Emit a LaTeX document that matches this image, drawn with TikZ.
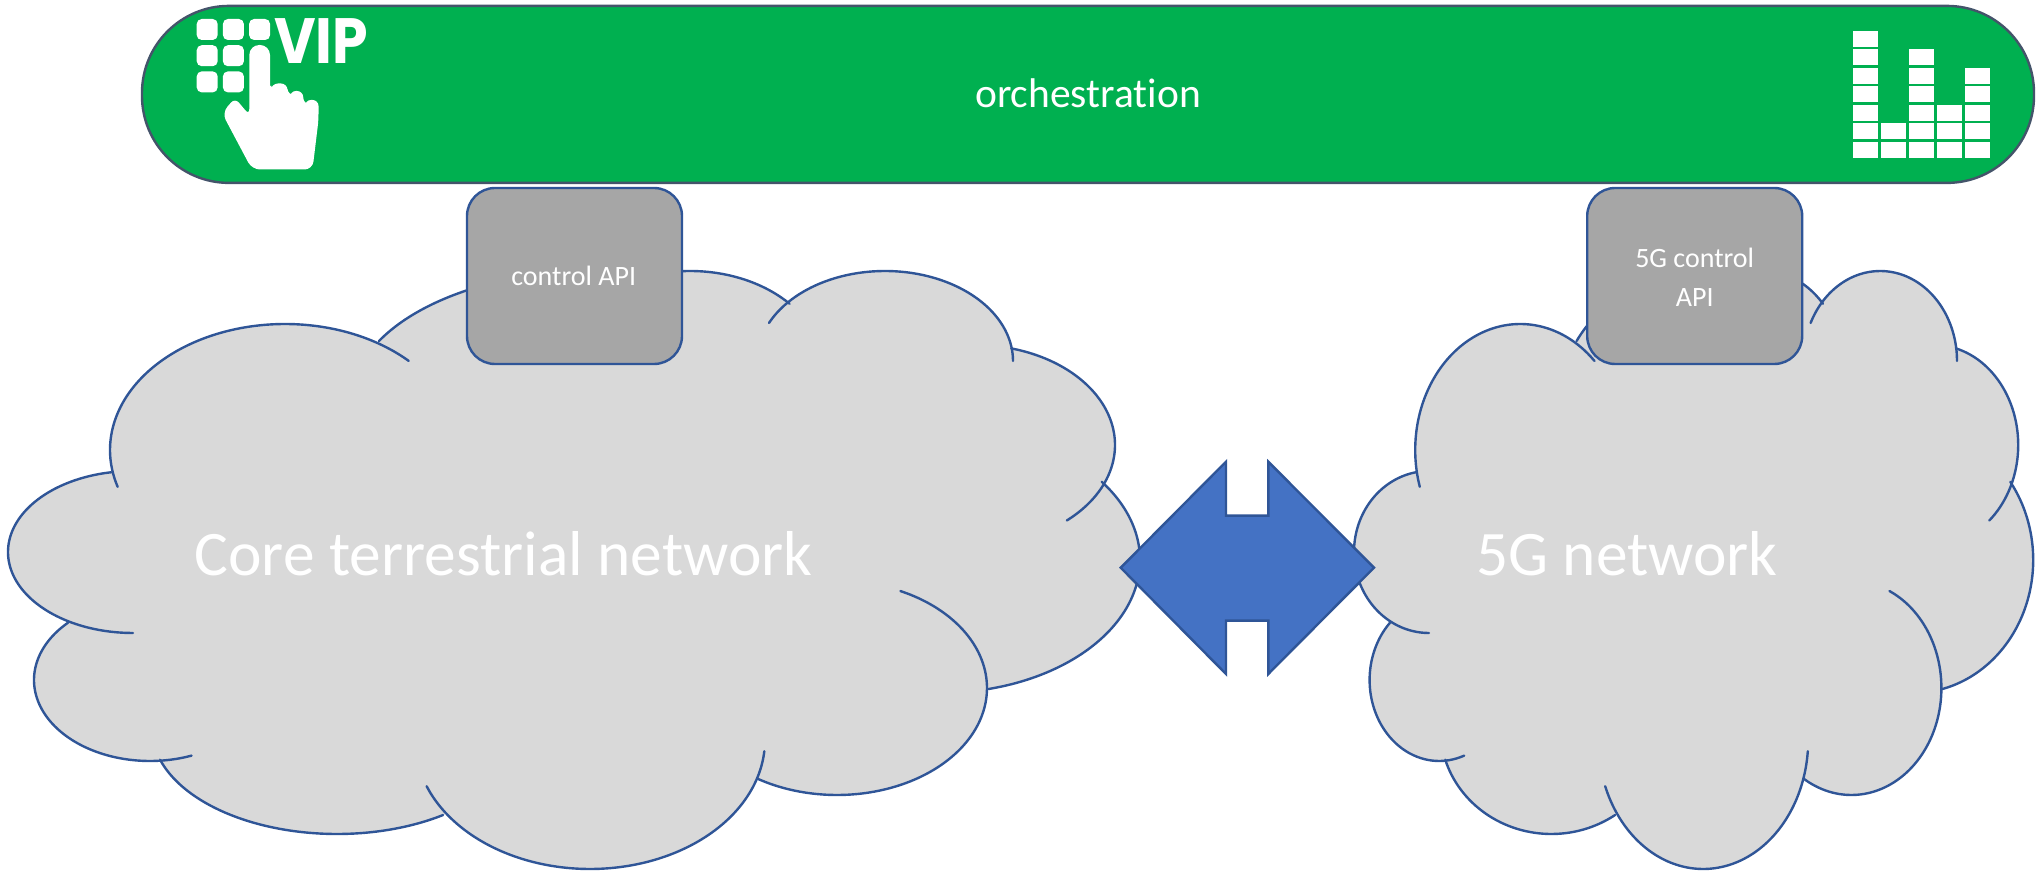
\documentclass[tikz,border=0pt]{standalone}
\usepackage{fontspec}
\setmainfont[Ligatures=NoCommon]{Carlito}
\newfontfamily\vipfont{Poppins}
\definecolor{edgeblue}{HTML}{2F5597}
\definecolor{cloudgrey}{HTML}{D9D9D9}
\definecolor{boxgrey}{HTML}{A6A6A6}
\definecolor{bannergreen}{HTML}{00B050}
\definecolor{bannerline}{HTML}{44546A}
\definecolor{arrowblue}{HTML}{4472C4}
\tikzset{
  lobeline/.style={draw=edgeblue,line width=1.2pt,line cap=round},
  apibox/.style={draw=edgeblue,line width=1.2pt,fill=boxgrey,rounded corners=14pt,minimum width=107.5pt,minimum height=88pt,inner sep=0pt},
  banner/.style={draw=bannerline,line width=1.2pt,fill=bannergreen,rounded corners=43.5pt,minimum width=946pt,minimum height=88.5pt,inner sep=0pt},
  apilabel/.style={text=white,inner sep=0pt,anchor=base,font=\fontsize{14}{19.5}\selectfont},
  bannerlabel/.style={text=white,inner sep=0pt,anchor=base,font=\fontsize{20.75}{24}\selectfont},
  cloudlabel/.style={text=white,inner sep=0pt,anchor=base,font=\fontsize{31.7}{36}\selectfont},
  keypad/.style={fill=white,rounded corners=2.5pt},
  barcell/.style={fill=white}
}
\newcommand{\cloudbody}{%
  \fill[cloudgrey] (133,552)--(285,450)--(600,400)--(690,370)--(885,361)--(975,445)--(940,560)--(837,688)--(590,740)--(337,729)--(150,680)--cycle;
  \foreach \cx/\cy/\rx/\ry in {133/552/125/81,285/450/175/126,600/400/248/130,690/370/134/99,885/361/128/90,975/445/140/100,940/560/200/133,837/688/150/107,590/740/175/129,337/729/185/105,150/680/116/81}
    {\fill[cloudgrey] (\cx,\cy) ellipse [x radius=\rx,y radius=\ry];}
  \foreach \cx/\cy/\rx/\ry/\ta/\tb in {133/552/125/81/90/260,285/450/175/126/163/315,600/400/248/130/207/250,690/370/134/99/266/318,885/361/128/90/205/360,975/445/140/100/-75/49,940/560/200/133/-36/76,837/688/150/107/-65/122,590/740/175/129/5/159,337/729/185/105/55/163,150/680/116/81/69/225}
    {\draw[lobeline] plot[domain=\ta:\tb,samples=48,smooth] ({\cx+\rx*cos(\x)},{\cy+\ry*sin(\x)});}
}
\begin{document}
\begin{tikzpicture}[x=0.5pt,y=-0.5pt]
\useasboundingbox (0,0) rectangle (2036,871);
% clouds
\begin{scope}\cloudbody\end{scope}
\begin{scope}[shift={(1349.2,0)},xscale=0.6]\cloudbody\end{scope}
% banner
\node[banner] (orch) at (1088,94.4) {};
\node[bannerlabel] (orchlabel) at (1088,108) {orchestration};
% boxes
\node[apibox] (api) at (574.5,276) {};
\node[apilabel] (apilabel) at (573.7,286) {control API};
\node[apibox] (api5g) at (1694.7,276) {};
\node[apilabel] (apilabelA) at (1694.7,268) {5G control};
\node[apilabel] (apilabelB) at (1694.7,307) {API};
% labels
\node[cloudlabel] (core) at (503.5,575) {Core terrestrial network};
\node[cloudlabel] (fiveg) at (1627,575) {5G network};
% arrow
\draw[draw=edgeblue,line width=1.2pt,fill=arrowblue,line join=miter]
  (1120.7,567.7)--(1226,461.7)--(1226,515.7)--(1268.3,515.7)--(1268.3,461.7)--(1374,567.7)--(1268.3,674)--(1268.3,620.7)--(1226,620.7)--(1226,674)--cycle;
% keypad
\foreach \kx/\ky in {0/0,1/0,2/0,0/1,1/1,0/2,1/2}
  {\fill[keypad] ({196.7+\kx*26.2},{19+\ky*26.2}) rectangle ++(21,21);}
% hand
\fill[white,rounded corners=2.5pt]
  (249.3,115) [rounded corners=5pt] -- (249.3,45) -- (270,45)
  [sharp corners] -- (270,86) -- (271.5,86)
  [rounded corners=3pt] -- (272,83.5) -- (287,83.5) -- (288,95)
  [sharp corners] -- (290,95)
  [rounded corners=3pt] -- (290,91) -- (303,91) -- (303.5,104)
  [sharp corners] -- (305,104)
  [rounded corners=3pt] -- (305,100) -- (318.5,100) -- (318.5,120)
  [rounded corners=4pt] -- (312.5,169.5) -- (252,169.5) -- (222,113)
  [rounded corners=3pt] -- (235,98) -- cycle;
\node[inner sep=0pt,anchor=base west,text=white,font=\vipfont\bfseries\fontsize{32}{32}\selectfont] (vip) at (274,64) {\scalebox{0.89}[1]{VIP}};
% bars
\foreach \col/\first in {0/0,1/5,2/1,3/4,4/2}
  {\foreach \row in {0,...,6}
    {\ifnum\row<\first\else
      \fill[barcell] ({1853+\col*28},{31+\row*18.5}) rectangle ++(25,16);
    \fi}}
\end{tikzpicture}
\end{document}
